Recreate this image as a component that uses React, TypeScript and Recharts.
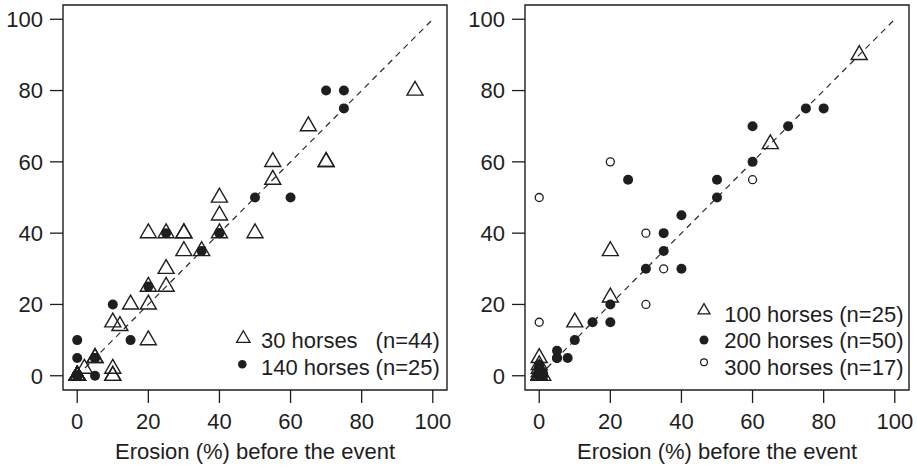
import React from 'react';
import { ScatterChart, Scatter, XAxis, YAxis, ReferenceLine, ReferenceArea, Legend } from 'recharts';

type Pt = { x: number; y: number };

// ---------- data ----------
const tickValues = [0, 20, 40, 60, 80, 100];
const axisTitle = 'Erosion (%) before the event';

const leftLabels = ['30 horses', '140 horses'];
const leftCounts = ['(n=44)', '(n=25)'];
const rightLabels = ['100 horses (n=25)', '200 horses (n=50)', '300 horses (n=17)'];

const horses30: Pt[] = [
  { x: 55, y: 60 }, { x: 55, y: 55 }, { x: 40, y: 50 }, { x: 40, y: 45 }, { x: 40, y: 40 },
  { x: 50, y: 40 }, { x: 20, y: 40 }, { x: 25, y: 40 }, { x: 30, y: 40 }, { x: 30, y: 40 },
  { x: 30, y: 35 }, { x: 35, y: 35 }, { x: 25, y: 30 }, { x: 20, y: 25 }, { x: 25, y: 25 },
  { x: 15, y: 20 }, { x: 20, y: 20 }, { x: 10, y: 15 }, { x: 12, y: 14 }, { x: 20, y: 10 },
  { x: 5, y: 5 }, { x: 2, y: 2 }, { x: 10, y: 2 }, { x: 10, y: 0 }, { x: 0, y: 0 },
  { x: 95, y: 80 }, { x: 65, y: 70 }, { x: 70, y: 60 }, { x: 70, y: 60 },
  { x: 0, y: 0 }, { x: 0, y: 0 }, { x: 0, y: 0 }, { x: 0, y: 0 }, { x: 0, y: 0 },
  { x: 0, y: 0 }, { x: 0, y: 0 }, { x: 0, y: 0 }, { x: 0, y: 0 }, { x: 0, y: 0 },
  { x: 0, y: 0 }, { x: 0, y: 0 }, { x: 0, y: 0 }, { x: 5, y: 5 }, { x: 10, y: 0 },
];

const horses140: Pt[] = [
  { x: 70, y: 80 }, { x: 75, y: 80 }, { x: 75, y: 75 }, { x: 50, y: 50 }, { x: 60, y: 50 },
  { x: 40, y: 40 }, { x: 25, y: 40 }, { x: 35, y: 35 }, { x: 20, y: 25 }, { x: 10, y: 20 },
  { x: 15, y: 10 }, { x: 0, y: 10 }, { x: 0, y: 5 }, { x: 5, y: 5 }, { x: 5, y: 0 },
  { x: 0, y: 0 }, { x: 0, y: 0 }, { x: 0, y: 0 }, { x: 0, y: 0 }, { x: 0, y: 0 },
  { x: 0, y: 0 }, { x: 0, y: 0 }, { x: 0, y: 0 }, { x: 5, y: 5 }, { x: 40, y: 40 },
];

const horses100: Pt[] = [
  { x: 90, y: 90 }, { x: 65, y: 65 }, { x: 20, y: 35 }, { x: 20, y: 22 }, { x: 10, y: 15 },
  { x: 0, y: 5 }, { x: 0, y: 0 }, { x: 0, y: 0 }, { x: 0, y: 0 }, { x: 0, y: 0 },
  { x: 0, y: 0 }, { x: 0, y: 0 }, { x: 0, y: 0 }, { x: 0, y: 0 }, { x: 0, y: 0 },
  { x: 0, y: 0 }, { x: 0, y: 0 }, { x: 0, y: 0 }, { x: 0, y: 0 }, { x: 0, y: 0 },
  { x: 0, y: 0 }, { x: 0, y: 1 }, { x: 0, y: 2 }, { x: 1, y: 0 }, { x: 0, y: 3 },
];

const horses200: Pt[] = [
  { x: 75, y: 75 }, { x: 80, y: 75 }, { x: 60, y: 70 }, { x: 70, y: 70 }, { x: 60, y: 60 },
  { x: 50, y: 55 }, { x: 50, y: 50 }, { x: 40, y: 45 }, { x: 35, y: 40 }, { x: 25, y: 55 },
  { x: 35, y: 35 }, { x: 30, y: 30 }, { x: 40, y: 30 }, { x: 20, y: 20 }, { x: 15, y: 15 },
  { x: 20, y: 15 }, { x: 10, y: 10 }, { x: 5, y: 7 }, { x: 5, y: 5 }, { x: 8, y: 5 },
  { x: 0, y: 0 }, { x: 0, y: 0 }, { x: 0, y: 0 }, { x: 0, y: 0 }, { x: 0, y: 0 },
  { x: 0, y: 0 }, { x: 0, y: 0 }, { x: 0, y: 0 }, { x: 0, y: 0 }, { x: 0, y: 0 },
  { x: 0, y: 0 }, { x: 0, y: 0 }, { x: 0, y: 0 }, { x: 0, y: 0 }, { x: 0, y: 0 },
  { x: 0, y: 0 }, { x: 0, y: 0 }, { x: 0, y: 0 }, { x: 0, y: 0 }, { x: 0, y: 0 },
  { x: 0, y: 0 }, { x: 0, y: 0 }, { x: 0, y: 0 }, { x: 0, y: 0 }, { x: 0, y: 1 },
  { x: 0, y: 2 }, { x: 1, y: 1 }, { x: 0, y: 3 }, { x: 1, y: 0 }, { x: 5, y: 5 },
];

const horses300: Pt[] = [
  { x: 0, y: 50 }, { x: 20, y: 60 }, { x: 30, y: 40 }, { x: 35, y: 30 }, { x: 30, y: 20 },
  { x: 0, y: 15 }, { x: 60, y: 55 }, { x: 0, y: 0 }, { x: 0, y: 0 }, { x: 0, y: 0 },
  { x: 0, y: 0 }, { x: 0, y: 0 }, { x: 0, y: 0 }, { x: 0, y: 0 }, { x: 0, y: 0 },
  { x: 0, y: 2 }, { x: 1, y: 0 },
];

const identitySegment = [{ x: 0, y: 0 }, { x: 100, y: 100 }];

// ---------- styles ----------
const INK = '#1e1e1e';
const FONT = '"Liberation Sans", Arial, Helvetica, sans-serif';
const FS = 22;
const DOMAIN: [number, number] = [-4, 104];

const triPoints = (cx: number, cy: number, w: number) => {
  const h = w * 0.866;
  return `${cx},${cy - (2 * h) / 3} ${cx + w / 2},${cy + h / 3} ${cx - w / 2},${cy + h / 3}`;
};

const TriangleShape = (props: any) => {
  const { cx, cy } = props;
  if (cx == null || cy == null) return <g />;
  return <polygon points={triPoints(cx, cy, 16)} fill="none" stroke={INK} strokeWidth={1.4} />;
};

const DotShape = (props: any) => {
  const { cx, cy } = props;
  if (cx == null || cy == null) return <g />;
  return <circle cx={cx} cy={cy} r={5} fill={INK} stroke="none" />;
};

const RingShape = (props: any) => {
  const { cx, cy } = props;
  if (cx == null || cy == null) return <g />;
  return <circle cx={cx} cy={cy} r={4} fill="none" stroke={INK} strokeWidth={1.3} />;
};

const textStyle: React.CSSProperties = { fontFamily: FONT, fontSize: FS, fill: INK };

const LeftLegend = () => (
  <svg width={220} height={65} style={{ display: 'block', overflow: 'visible' }}>
    <polygon points={triPoints(13.3, 18.5, 13.5)} fill="none" stroke={INK} strokeWidth={1.3} />
    <text x={31} y={28} style={textStyle}>{leftLabels[0]}</text>
    <text x={209.8} y={28} textAnchor="end" style={textStyle}>{leftCounts[0]}</text>
    <circle cx={12.3} cy={44.3} r={4.3} fill={INK} />
    <text x={31} y={55} style={textStyle}>{leftLabels[1]}</text>
    <text x={209.8} y={55} textAnchor="end" style={textStyle}>{leftCounts[1]}</text>
  </svg>
);

const RightLegend = () => (
  <svg width={225} height={90} style={{ display: 'block', overflow: 'visible' }}>
    <polygon points={triPoints(17, 15.5, 12)} fill="none" stroke={INK} strokeWidth={1.3} />
    <text x={37.3} y={26.5} style={textStyle}>{rightLabels[0]}</text>
    <circle cx={17} cy={45} r={4.5} fill={INK} />
    <text x={37.3} y={53.2} style={textStyle}>{rightLabels[1]}</text>
    <circle cx={17} cy={67.3} r={3.4} fill="none" stroke={INK} strokeWidth={1.2} />
    <text x={37.3} y={79.8} style={textStyle}>{rightLabels[2]}</text>
  </svg>
);

const tickStyle = { fill: INK, fontSize: FS, fontFamily: FONT };
const tickLineStyle = { stroke: INK, strokeWidth: 1.3 };

function Panel(props: {
  width: number;
  rightMargin: number;
  series: { data: Pt[]; shape: any; name: string }[];
  legend: React.ReactNode;
  legendPos: { left: number; top: number; width: number; height: number };
}) {
  const { width, rightMargin, series, legend, legendPos } = props;
  return (
    <ScatterChart width={width} height={468} margin={{ top: 5, right: rightMargin, bottom: 0, left: 0 }}>
      <ReferenceArea x1={DOMAIN[0]} x2={DOMAIN[1]} y1={DOMAIN[0]} y2={DOMAIN[1]} fill="none" fillOpacity={0} stroke={INK} strokeWidth={1.4} ifOverflow="visible" />
      <XAxis
        type="number"
        dataKey="x"
        domain={DOMAIN}
        ticks={tickValues}
        interval={0}
        allowDataOverflow
        axisLine={false}
        tickSize={13}
        tickMargin={10}
        tickLine={tickLineStyle}
        tick={tickStyle}
        height={78}
        label={{ value: axisTitle, position: 'insideBottom', offset: 9, fill: INK, fontSize: FS, fontFamily: FONT }}
      />
      <YAxis
        type="number"
        dataKey="y"
        domain={DOMAIN}
        ticks={tickValues}
        interval={0}
        allowDataOverflow
        axisLine={false}
        tickSize={13}
        tickMargin={7}
        tickLine={tickLineStyle}
        tick={tickStyle}
        width={63}
      />
      <ReferenceLine segment={identitySegment} stroke="#2a2a2a" strokeWidth={1.2} strokeDasharray="6 5" />
      {series.map((s) => (
        <Scatter key={s.name} name={s.name} data={s.data} shape={s.shape} isAnimationActive={false} />
      ))}
      <Legend
        layout="horizontal"
        verticalAlign="middle"
        align="center"
        wrapperStyle={{ left: legendPos.left, top: legendPos.top, width: legendPos.width, height: legendPos.height }}
        content={() => legend}
      />
    </ScatterChart>
  );
}

export default function App() {
  return (
    <div style={{ position: 'absolute', left: 0, top: 0, width: 917, height: 468, background: '#fff', fontFamily: FONT }}>
      <div style={{ position: 'absolute', left: 0, top: 0 }}>
        <Panel
          width={458}
          rightMargin={11}
          series={[
            { data: horses30, shape: TriangleShape, name: '30 horses' },
            { data: horses140, shape: DotShape, name: '140 horses' },
          ]}
          legend={<LeftLegend />}
          legendPos={{ left: 230, top: 320, width: 220, height: 65 }}
        />
      </div>
      <div style={{ position: 'absolute', left: 462, top: 0 }}>
        <Panel
          width={455}
          rightMargin={8}
          series={[
            { data: horses100, shape: TriangleShape, name: '100 horses' },
            { data: horses200, shape: DotShape, name: '200 horses' },
            { data: horses300, shape: RingShape, name: '300 horses' },
          ]}
          legend={<RightLegend />}
          legendPos={{ left: 225, top: 295, width: 225, height: 90 }}
        />
      </div>
    </div>
  );
}
